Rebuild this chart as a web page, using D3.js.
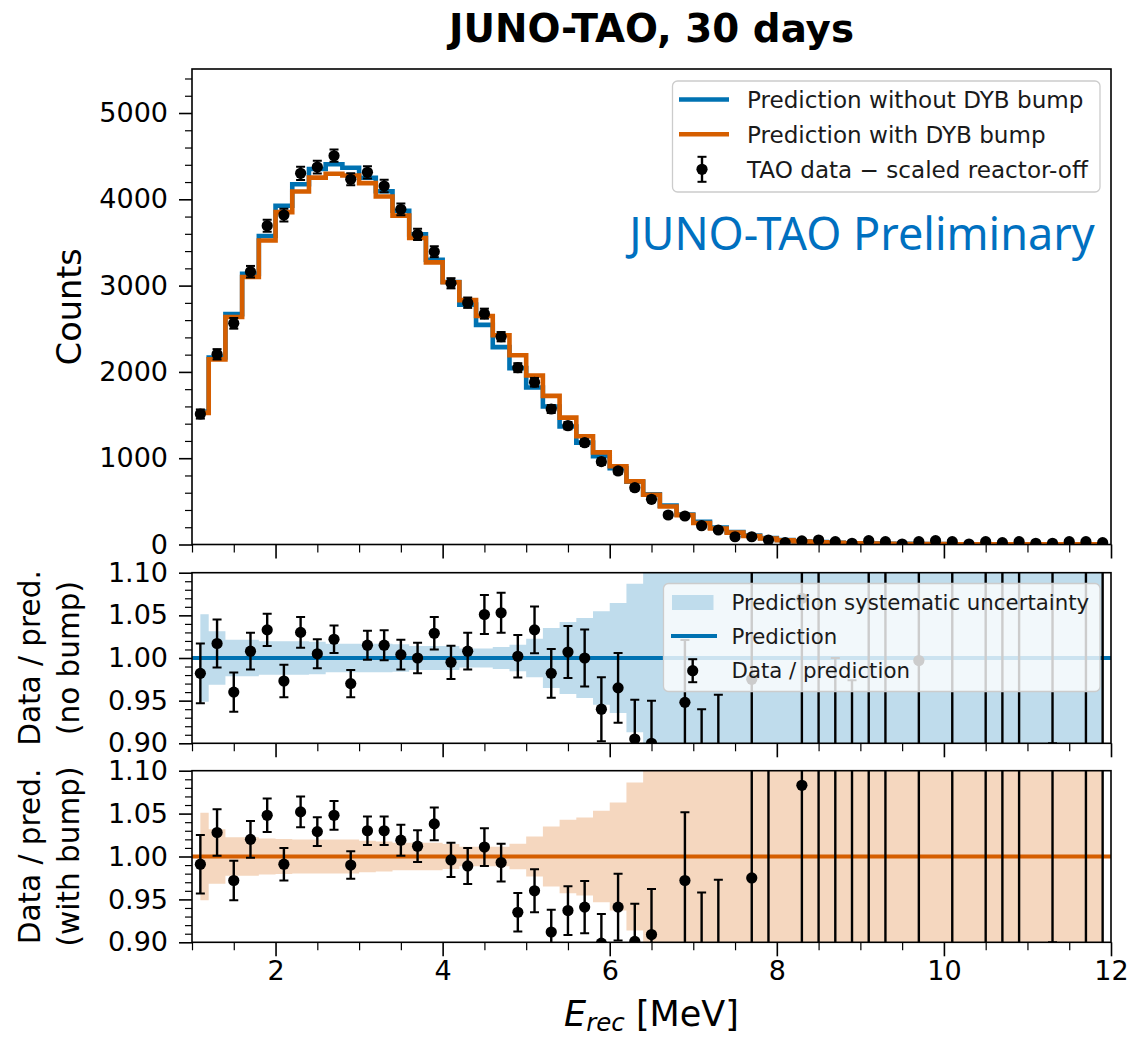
<!DOCTYPE html>
<html><head><meta charset="utf-8">
<script src="https://cdn.jsdelivr.net/npm/d3@7"></script>
<style>body{margin:0;background:#fff;} svg{display:block;font-family:"DejaVu Sans",sans-serif;}</style>
</head><body><svg id="c" width="1145" height="1037"></svg>
<script>
// ---------------- data ----------------
const binCenters = [1.1,1.3,1.5,1.7,1.9,2.1,2.3,2.5,2.7,2.9,3.1,3.3,3.5,3.7,3.9,4.1,4.3,4.5,4.7,4.9,5.1,5.3,5.5,5.7,5.9,6.1,6.3,6.5,6.7,6.9,7.1,7.3,7.5,7.7,7.9,8.1,8.3,8.5,8.7,8.9,9.1,9.3,9.5,9.7,9.9,10.1,10.3,10.5,10.7,10.9,11.1,11.3,11.5,11.7,11.9];
const dataCounts = [1512,2204,2563,3161,3694,3818,4301,4374,4505,4232,4313,4154,3884,3594,3393,3027,2802,2675,2408,2049,1880,1570,1377,1180,960,852,658,524,342,330,218,168,90,90,52,21,41,52,33,14,44,33,6,33,44,33,6,33,21,33,14,14,33,33,21];
const dataErr = [53,60,62,67,69,74,76,74,71,69,71,72,68,65,63,59,60,58,54,52,50,46,42,39,38,36,33,29,28,25,23,21,20,19,18,17,17,17,16,16,16,16,15,15,15,15,15,15,15,15,15,15,15,15,15];
const predNoBump = [1540,2167,2670,3136,3575,3925,4175,4351,4407,4365,4250,4093,3867,3594,3299,3041,2780,2545,2287,2044,1819,1599,1367,1180,1022,883,727,582,450,348,262,196,145,104,74,52,37,27,20,15,11,9,7,5,4,3,3,2,2,2,1,1,1,1,1];
const predBump = [1525,2145,2637,3099,3523,3852,4090,4251,4297,4276,4187,4033,3811,3551,3269,3039,2832,2647,2425,2193,1958,1722,1470,1254,1068,906,731,576,440,340,250,186,138,98,70,50,35,26,19,14,10,8,6,5,4,3,3,2,2,2,1,1,1,1,1];
const ratioNoBump = [0.982,1.017,0.960,1.008,1.033,0.973,1.030,1.005,1.022,0.970,1.015,1.015,1.004,1.000,1.029,0.995,1.008,1.051,1.053,1.002,1.033,0.982,1.007,1.000,0.940,0.965,0.905,0.900,0.78,0.948,0.855,0.870,0.55,0.975,1.35,0.30,1.07,1.50,0.55,0.50,1.60,1.50,0.20,0.997,0.30,1.80,0.10,1.60,2.00,1.70,0.10,2.50,0.00,2.00,1.80];
const ratioNoBumpErr = [0.035,0.028,0.023,0.0215,0.019,0.019,0.018,0.017,0.016,0.016,0.017,0.0175,0.0175,0.018,0.019,0.0195,0.0215,0.023,0.0235,0.025,0.0275,0.0285,0.0305,0.0335,0.0375,0.041,0.046,0.050,0.09,0.073,0.085,0.087,0.12,0.40,0.20,0.40,0.50,0.65,0.45,0.474,0.80,0.70,0.50,1.00,0.50,1.00,0.60,1.00,1.20,1.00,0.70,1.60,0.70,1.50,1.20];
const ratioBump = [0.991,1.028,0.972,1.020,1.048,0.991,1.052,1.029,1.048,0.990,1.030,1.030,1.019,1.012,1.038,0.996,0.989,1.011,0.993,0.935,0.960,0.912,0.937,0.941,0.899,0.941,0.901,0.909,0.78,0.972,0.870,0.880,0.55,0.975,1.30,0.30,1.083,1.50,0.60,0.60,1.60,1.50,0.20,1.25,0.30,1.80,0.10,1.60,2.00,1.70,0.10,2.50,0.00,2.00,1.80];
const ratioBumpErr = [0.034,0.027,0.023,0.0215,0.0195,0.019,0.018,0.0167,0.0167,0.016,0.0167,0.0167,0.018,0.0185,0.019,0.020,0.021,0.022,0.022,0.0224,0.025,0.026,0.0284,0.0305,0.034,0.039,0.044,0.053,0.09,0.0797,0.088,0.093,0.12,0.40,0.45,0.40,0.50,0.70,0.60,0.60,0.80,0.70,0.50,1.00,0.50,1.00,0.60,1.00,1.20,1.00,0.70,1.60,0.70,1.50,1.20];
const bandNoBump = [0.0514,0.0313,0.0215,0.0215,0.0195,0.0195,0.0195,0.0190,0.0166,0.0166,0.0166,0.0166,0.0160,0.0140,0.0140,0.0140,0.0110,0.0110,0.0130,0.0156,0.0227,0.0352,0.0422,0.0470,0.0547,0.0645,0.0871,0.12,0.14,0.17,0.20,0.23,0.27,0.30,0.34,0.38,0.42,0.46,0.50,0.55,0.60,0.65,0.70,0.75,0.80,0.85,0.90,0.95,1.0,1.0,1.0,1.0,1.0,1.0,1.0];
const bandBump = [0.0510,0.0317,0.0225,0.0225,0.0210,0.0205,0.0198,0.0198,0.0198,0.0198,0.0185,0.0175,0.0160,0.0160,0.0160,0.0145,0.0113,0.0113,0.0113,0.0148,0.0233,0.0350,0.0427,0.0455,0.0533,0.0630,0.0862,0.12,0.14,0.17,0.20,0.23,0.27,0.30,0.34,0.38,0.42,0.46,0.50,0.55,0.60,0.65,0.70,0.75,0.80,0.85,0.90,0.95,1.0,1.0,1.0,1.0,1.0,1.0,1.0];
const countTicks = [0,1000,2000,3000,4000,5000];
const ratioTicks = [0.90,0.95,1.00,1.05,1.10];
const energyTicks = [2,4,6,8,10,12];
const legendTop = ["Prediction without DYB bump","Prediction with DYB bump","TAO data \u2212 scaled reactor-off"];
const legendRatio = ["Prediction systematic uncertainty","Prediction","Data / prediction"];

// ---------------- layout ----------------
const BLUE="#0072B2", ORANGE="#D55E00", BLUE_BAND="#BFDCEC", ORANGE_BAND="#F5D7BF";
const L=192, R=1111;
const P = {top:[69,544.5], mid:[572.7,743.3], bot:[770.7,942.3]};
const svg = d3.select("#c");
const x = d3.scaleLinear().domain([1,12]).range([L,R]);
const yTop = d3.scaleLinear().domain([0,5510]).range([P.top[1],P.top[0]]);
const yMid = d3.scaleLinear().domain([0.9,1.1]).range([P.mid[1],P.mid[0]]);
const yBot = d3.scaleLinear().domain([0.9,1.1]).range([P.bot[1],P.bot[0]]);
const FS_TICK = 27;

const defs = svg.append("defs");
function clip(id, y0, y1){
  defs.append("clipPath").attr("id",id).append("rect").attr("x",L).attr("y",y0).attr("width",R-L).attr("height",y1-y0);
}
clip("cTop",P.top[0],P.top[1]); clip("cMid",P.mid[0],P.mid[1]); clip("cBot",P.bot[0],P.bot[1]);

function styleAxis(g, major){
  g.select(".domain").remove();
  g.selectAll(".tick line").attr("stroke","#000").attr("stroke-width", major?1.6:1.2);
  g.selectAll(".tick text").attr("fill","#000").attr("font-size",FS_TICK).attr("font-family","DejaVu Sans");
}
function yAxes(y, major, minor, fmt){
  const g1 = svg.append("g").attr("transform",`translate(${L},0)`)
    .call(d3.axisLeft(y).tickValues(major).tickSize(13).tickPadding(11).tickFormat(fmt));
  styleAxis(g1,true);
  const g2 = svg.append("g").attr("transform",`translate(${L},0)`)
    .call(d3.axisLeft(y).tickValues(minor).tickSize(7).tickFormat(""));
  styleAxis(g2,false);
}
function xAxes(yPix, labels){
  const minor = d3.range(1,12.01,0.5).filter(v=>!energyTicks.includes(v));
  const g1 = svg.append("g").attr("transform",`translate(0,${yPix})`)
    .call(d3.axisBottom(x).tickValues(energyTicks).tickSize(14).tickPadding(5).tickFormat(labels?d3.format("d"):""));
  styleAxis(g1,true);
  const g2 = svg.append("g").attr("transform",`translate(0,${yPix})`)
    .call(d3.axisBottom(x).tickValues(minor).tickSize(8).tickFormat(""));
  styleAxis(g2,false);
}
function frame(y0,y1){
  svg.append("rect").attr("x",L).attr("y",y0).attr("width",R-L).attr("height",y1-y0)
    .attr("fill","none").attr("stroke","#000").attr("stroke-width",1.6);
}
function errPoints(g, xs, ys, es, yS){
  const d = xs.map((c,i)=>({c, v:ys[i], e:es[i]}));
  const gg = g.append("g");
  gg.selectAll("line.eb").data(d).join("line").attr("class","eb")
    .attr("x1",d=>x(d.c)).attr("x2",d=>x(d.c))
    .attr("y1",d=>yS(d.v-d.e)).attr("y2",d=>yS(d.v+d.e))
    .attr("stroke","#000").attr("stroke-width",2.4);
  ["lo","hi"].forEach(k=>{
    gg.selectAll("line.cap"+k).data(d).join("line").attr("class","cap"+k)
      .attr("x1",d=>x(d.c)-4.5).attr("x2",d=>x(d.c)+4.5)
      .attr("y1",d=>yS(k==="lo"?d.v-d.e:d.v+d.e)).attr("y2",d=>yS(k==="lo"?d.v-d.e:d.v+d.e))
      .attr("stroke","#000").attr("stroke-width",2);
  });
  gg.selectAll("circle").data(d).join("circle")
    .attr("cx",d=>x(d.c)).attr("cy",d=>yS(d.v)).attr("r",5.6).attr("fill","#000");
}

// ---------------- top panel ----------------
const gTop = svg.append("g").attr("clip-path","url(#cTop)");
const stepLine = d3.line().x(d=>x(d.c)).y(d=>yTop(d.v)).curve(d3.curveStep);
gTop.append("path").attr("d",stepLine(binCenters.map((c,i)=>({c,v:predNoBump[i]}))))
  .attr("fill","none").attr("stroke",BLUE).attr("stroke-width",4.6);
gTop.append("path").attr("d",stepLine(binCenters.map((c,i)=>({c,v:predBump[i]}))))
  .attr("fill","none").attr("stroke",ORANGE).attr("stroke-width",4.6);
errPoints(gTop, binCenters, dataCounts, dataErr, yTop);
frame(P.top[0],P.top[1]);
yAxes(yTop, countTicks, d3.range(0,5501,200).filter(v=>v%1000!==0), d3.format("d"));
xAxes(P.top[1], false);

// legend top
(function(){
  const g = svg.append("g");
  g.append("rect").attr("x",672.5).attr("y",81).attr("width",427.5).attr("height",111).attr("rx",5)
    .attr("fill","#fff").attr("fill-opacity",0.8).attr("stroke","#cccccc").attr("stroke-width",1.3);
  const rows=[99.5,134.3,169.3];
  g.append("line").attr("x1",679).attr("x2",729).attr("y1",rows[0]).attr("y2",rows[0]).attr("stroke",BLUE).attr("stroke-width",4.6);
  g.append("line").attr("x1",679).attr("x2",729).attr("y1",rows[1]).attr("y2",rows[1]).attr("stroke",ORANGE).attr("stroke-width",4.6);
  g.append("line").attr("x1",702).attr("x2",702).attr("y1",rows[2]-12.5).attr("y2",rows[2]+12.5).attr("stroke","#000").attr("stroke-width",2.4);
  [rows[2]-12.5,rows[2]+12.5].forEach(yy=>g.append("line").attr("x1",697.5).attr("x2",706.5).attr("y1",yy).attr("y2",yy).attr("stroke","#000").attr("stroke-width",2));
  g.append("circle").attr("cx",702).attr("cy",rows[2]).attr("r",5.6).attr("fill","#000");
  legendTop.forEach((t,i)=>g.append("text").attr("x",747).attr("y",rows[i]).attr("dy","0.36em")
    .attr("font-size",23.1).attr("fill","#1a1a1a").text(t));
})();

svg.append("text").attr("x",862).attr("y",250).attr("text-anchor","middle")
  .attr("font-family","'Noto Sans','Open Sans',sans-serif").attr("font-size",45).attr("fill","#0070C0")
  .text("JUNO-TAO Preliminary");

// ---------------- ratio panels ----------------
function ratioPanel(clipId, yS, band, bandColor, lineColor, ratio, rerr){
  const g = svg.append("g").attr("clip-path",`url(#${clipId})`);
  const area = d3.area().x(d=>x(d.c)).y0(d=>yS(1-d.b)).y1(d=>yS(1+d.b)).curve(d3.curveStep);
  g.append("path").attr("d",area(binCenters.map((c,i)=>({c,b:band[i]})))).attr("fill",bandColor);
  g.append("line").attr("x1",L).attr("x2",R).attr("y1",yS(1)).attr("y2",yS(1)).attr("stroke",lineColor).attr("stroke-width",4);
  errPoints(g, binCenters, ratio, rerr, yS);
}
ratioPanel("cMid", yMid, bandNoBump, BLUE_BAND, BLUE, ratioNoBump, ratioNoBumpErr);
ratioPanel("cBot", yBot, bandBump, ORANGE_BAND, ORANGE, ratioBump, ratioBumpErr);

// legend middle
(function(){
  const g = svg.append("g");
  g.append("rect").attr("x",663.5).attr("y",583.5).attr("width",436.5).attr("height",108).attr("rx",5)
    .attr("fill","#fff").attr("fill-opacity",0.8).attr("stroke","#cccccc").attr("stroke-width",1.3);
  const rows=[602.5,636,670.7];
  g.append("rect").attr("x",672).attr("y",rows[0]-7.5).attr("width",41.5).attr("height",15).attr("fill",BLUE_BAND);
  g.append("line").attr("x1",671).attr("x2",717).attr("y1",rows[1]).attr("y2",rows[1]).attr("stroke",BLUE).attr("stroke-width",4);
  g.append("line").attr("x1",692.7).attr("x2",692.7).attr("y1",rows[2]-11.5).attr("y2",rows[2]+11.5).attr("stroke","#000").attr("stroke-width",2.4);
  [rows[2]-11.5,rows[2]+11.5].forEach(yy=>g.append("line").attr("x1",688.2).attr("x2",697.2).attr("y1",yy).attr("y2",yy).attr("stroke","#000").attr("stroke-width",2));
  g.append("circle").attr("cx",692.7).attr("cy",rows[2]).attr("r",5.6).attr("fill","#000");
  legendRatio.forEach((t,i)=>g.append("text").attr("x",731.5).attr("y",rows[i]).attr("dy","0.36em")
    .attr("font-size",21.3).attr("fill","#1a1a1a").text(t));
})();

frame(P.mid[0],P.mid[1]); frame(P.bot[0],P.bot[1]);
const fmt2 = d3.format(".2f");
const ratioMinor = d3.range(0,21).map(i=>0.9+i*0.01).filter(v=>Math.abs(v*20-Math.round(v*20))>1e-6);
yAxes(yMid, ratioTicks, ratioMinor, fmt2);
yAxes(yBot, ratioTicks, ratioMinor, fmt2);
xAxes(P.mid[1], false);
xAxes(P.bot[1], true);

// ---------------- labels ----------------
svg.append("text").attr("x",651.5).attr("y",42).attr("text-anchor","middle")
  .attr("font-weight","bold").attr("font-size",38.8).attr("fill","#000").text("JUNO-TAO, 30 days");
svg.append("text").attr("transform",`translate(81,${(P.top[0]+P.top[1])/2}) rotate(-90)`).attr("text-anchor","middle")
  .attr("font-size",33.5).attr("fill","#000").text("Counts");
function ratioLabel(y0,y1,l2){
  const cy=(y0+y1)/2;
  svg.append("text").attr("transform",`translate(40,${cy}) rotate(-90)`).attr("text-anchor","middle")
    .attr("font-size",29.5).attr("fill","#000").text("Data / pred.");
  svg.append("text").attr("transform",`translate(79,${cy}) rotate(-90)`).attr("text-anchor","middle")
    .attr("font-size",29.5).attr("fill","#000").text(l2);
}
ratioLabel(P.mid[0],P.mid[1],"(no bump)");
ratioLabel(P.bot[0],P.bot[1],"(with bump)");
const xl = svg.append("text").attr("x",651.5).attr("y",1026).attr("text-anchor","middle").attr("font-size",35).attr("fill","#000");
xl.append("tspan").attr("font-style","italic").text("E");
xl.append("tspan").attr("font-style","italic").attr("font-size",24.5).attr("dy",5).text("rec");
xl.append("tspan").attr("dy",-5).text(" [MeV]");
</script></body></html>
